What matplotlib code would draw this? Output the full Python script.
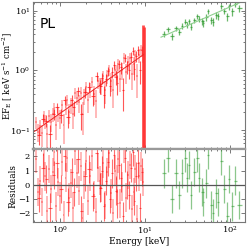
import numpy as np
import matplotlib
matplotlib.use('Agg')
import matplotlib.pyplot as plt

plt.rcParams['font.family'] = ['DejaVu Serif']
plt.rcParams['mathtext.fontset'] = 'dejavuserif'

# red (soft band) data, first group
red_E = [0.52, 0.55, 0.58, 0.61, 0.64, 0.67, 0.70, 0.74, 0.78, 0.82, 0.86, 0.90, 0.95, 1.0,
         1.05, 1.1, 1.16, 1.22, 1.28, 1.35, 1.42, 1.5, 1.58, 1.66, 1.75, 1.84, 1.94, 2.04,
         2.15, 2.26, 2.38, 2.5, 2.63, 2.77, 2.92, 3.07, 3.23, 3.4, 3.58, 3.77, 3.97, 4.18,
         4.4, 4.63, 4.87, 5.13, 5.4, 5.68, 5.98, 6.3, 6.63, 6.98, 7.35, 7.73, 8.14, 8.57,
         9.02, 9.5]
red_flux = [0.134, 0.094, 0.117, 0.088, 0.173, 0.142, 0.085, 0.172, 0.139, 0.184, 0.238,
            0.120, 0.188, 0.160, 0.264, 0.121, 0.242, 0.320, 0.199, 0.262, 0.184, 0.422,
            0.348, 0.290, 0.420, 0.189, 0.369, 0.520, 0.319, 0.480, 0.633, 0.409, 0.310,
            0.652, 0.588, 0.560, 0.798, 0.465, 0.802, 1.031, 0.664, 0.476, 1.003, 0.950,
            1.258, 0.722, 1.005, 1.619, 0.932, 1.365, 1.613, 0.875, 1.257, 1.792, 0.804,
            1.823, 2.160, 1.877]
red_err = [0.030, 0.032, 0.033, 0.035, 0.036, 0.038, 0.040, 0.042, 0.045, 0.047, 0.050,
           0.051, 0.054, 0.057, 0.060, 0.063, 0.066, 0.069, 0.074, 0.077, 0.081, 0.086,
           0.090, 0.095, 0.100, 0.105, 0.111, 0.117, 0.123, 0.129, 0.135, 0.143, 0.150,
           0.158, 0.167, 0.176, 0.185, 0.194, 0.204, 0.215, 0.227, 0.239, 0.251, 0.264,
           0.278, 0.293, 0.308, 0.324, 0.341, 0.359, 0.378, 0.398, 0.419, 0.441, 0.464,
           0.489, 0.515, 0.542]
red_res = [1.8, -0.5, 0.3, -1.2, 2.1, 0.6, -1.8, 1.1, -0.3, 0.9, 2.3, -1.5, 0.2, -0.8,
           1.6, -2.1, 0.5, 1.9, -0.9, 0.1, -1.6, 2.4, 0.8, -0.4, 1.3, -2.3, 0.0, 1.7,
           -1.1, 0.6, 2.0, -0.7, -1.9, 1.2, 0.3, -0.2, 1.5, -1.4, 0.9, 2.2, -0.6, -2.0,
           1.0, 0.4, 1.8, -1.3, -0.1, 2.5, -0.9, 0.7, 1.4, -1.7, -0.5, 1.1, -2.4, 0.6,
           1.3, 0.2]

# red data, second group (darker)
red2_E = [0.57, 0.63, 0.69, 0.76, 0.84, 0.92, 1.02, 1.13, 1.25, 1.38, 1.46, 1.62, 1.79,
          1.99, 2.2, 2.44, 2.7, 2.99, 3.15, 3.31, 3.49, 3.67, 3.87, 4.08, 4.29, 4.52, 4.75,
          5.0, 5.26, 5.54, 5.83, 6.14, 6.46, 6.8, 7.16, 7.54, 7.94, 8.35, 8.8, 9.26]
red2_flux = [0.084, 0.156, 0.144, 0.087, 0.188, 0.240, 0.179, 0.322, 0.166, 0.321, 0.243,
             0.446, 0.187, 0.435, 0.533, 0.371, 0.795, 0.540, 0.748, 0.393, 0.713, 0.976,
             0.551, 0.930, 1.243, 0.773, 0.609, 1.283, 1.124, 0.474, 1.634, 1.167, 1.013,
             1.680, 2.143, 1.039, 1.735, 2.181, 1.003, 2.155]
red2_err = [0.027, 0.030, 0.033, 0.036, 0.040, 0.044, 0.048, 0.054, 0.059, 0.066, 0.069,
            0.077, 0.085, 0.095, 0.105, 0.116, 0.128, 0.142, 0.150, 0.157, 0.166, 0.174,
            0.184, 0.194, 0.204, 0.215, 0.226, 0.238, 0.250, 0.263, 0.277, 0.292, 0.307,
            0.323, 0.340, 0.358, 0.377, 0.397, 0.418, 0.440]
red2_res = [-0.9, 1.2, 0.4, -1.6, 0.7, 1.5, -0.3, 2.0, -1.2, 0.9, -0.5, 1.8, -1.8, 0.6,
            1.1, -0.8, 2.2, -0.2, 1.0, -1.5, 0.3, 1.6, -1.0, 0.8, 2.1, -0.4, -1.3, 1.4,
            0.5, -2.2, 1.9, 0.0, -0.7, 1.2, 2.3, -1.1, 0.6, 1.5, -1.6, 0.9]

# the strong spike near 10 keV
spike_E = [9.62, 9.78]
spike_top = [5.7, 5.3]

# green (hard band) data
green_E = [16.8, 18.7, 20.9, 23.3, 25.3, 27.4, 29.8, 31.4, 33.2, 35.0, 38.1, 41.5, 43.6,
           47.3, 48.6, 52.8, 55.7, 60.5, 63.8, 69.2, 73.2, 79.4, 86.1, 93.3, 98.6, 106.9,
           115.9, 129.4]
green_flux = [4.12, 4.92, 3.78, 5.04, 4.43, 5.58, 6.58, 5.86, 6.69, 5.42, 6.91, 8.08, 7.19,
              6.70, 6.21, 7.73, 9.88, 6.91, 6.53, 8.38, 8.00, 11.85, 9.97, 8.00, 11.79,
              9.70, 12.89, 11.08]
green_err = [0.45, 0.48, 0.52, 0.55, 0.58, 0.61, 0.64, 0.66, 0.69, 0.71, 0.75, 0.79, 0.81,
             0.86, 0.87, 0.92, 0.95, 1.00, 1.03, 1.08, 1.12, 1.18, 1.24, 1.30, 1.35, 1.42,
             1.49, 1.60]
green_xerr = [0.8, 0.9, 1.0, 1.1, 1.0, 1.1, 1.2, 0.8, 0.9, 0.9, 1.5, 1.7, 1.0, 1.8, 0.7,
              2.0, 1.5, 2.4, 1.6, 2.7, 2.0, 3.1, 3.4, 3.6, 2.6, 4.2, 4.6, 9.0]
green_res = [0.8, 1.9, -1.0, 0.8, -0.7, 0.8, 1.9, 0.5, 1.4, -0.7, 0.9, 1.9, 0.5, -0.5,
             -1.2, 0.1, 2.1, -1.4, -2.0, -0.6, -1.2, 1.7, -0.3, -2.2, 0.4, -1.5, 0.3, -1.4]

# power-law model lines (straight in log-log)
red_model_E = [0.5, 9.6]
red_model_F = [0.095, 1.83]
green_model_E = [15.5, 140]
green_model_F = [3.6, 14.2]

red_xerr = np.gradient(np.array(red_E)) / 2
red2_xerr = np.gradient(np.array(red2_E)) / 2

fig = plt.figure(figsize=(2.49, 2.46), dpi=100)
ax = fig.add_axes([0.1325, 0.394, 0.852, 0.598])
axr = fig.add_axes([0.1325, 0.0976, 0.852, 0.2964], sharex=ax)

ax.errorbar(red_E, red_flux, yerr=red_err, xerr=red_xerr, fmt='none',
            ecolor='#ff2020', alpha=0.4, lw=1.1)
ax.errorbar(red2_E, red2_flux, yerr=red2_err, xerr=red2_xerr, fmt='none',
            ecolor='#ff1010', alpha=0.7, lw=0.8)
ax.vlines(spike_E, 0.001, spike_top, color='#ff3030', lw=2.0, alpha=0.85)
ax.plot(red_model_E, red_model_F, color='#ee2222', lw=0.7)
ax.errorbar(green_E, green_flux, yerr=green_err, xerr=green_xerr, fmt='none',
            ecolor='#2e9a2e', alpha=0.7, lw=0.9)
ax.plot(green_model_E, green_model_F, color='#8fd08f', lw=0.8)

ax.set_xscale('log')
ax.set_yscale('log')
ax.set_xlim(0.48, 152)
ax.set_ylim(0.048, 14)
ax.set_ylabel(r'EF$_{\rm E}$ [ keV s$^{-1}$ cm$^{-2}$]', fontsize=6.2)
ax.yaxis.set_label_coords(-0.09, 0.5)
ax.text(0.033, 0.85, 'PL', transform=ax.transAxes, fontsize=10,
        family='DejaVu Sans', va='center')
ax.tick_params(labelbottom=False)

axr.errorbar(red_E, red_res, yerr=1, xerr=red_xerr, fmt='none',
             ecolor='#ff2020', alpha=0.4, lw=1.1)
axr.errorbar(red2_E, red2_res, yerr=1, xerr=red2_xerr, fmt='none',
             ecolor='#ff1010', alpha=0.6, lw=0.8)
axr.errorbar(green_E, green_res, yerr=1, xerr=green_xerr, fmt='none',
             ecolor='#2e9a2e', alpha=0.55, lw=0.9)
axr.axhline(0, color='#555555', lw=0.9)
axr.set_ylim(-2.6, 2.5)
axr.set_yticks([-2, -1, 0, 1, 2])
axr.set_xlabel('Energy [keV]', fontsize=6.5, labelpad=1)
axr.set_ylabel('Residuals', fontsize=6.5)
axr.yaxis.set_label_coords(-0.075, 0.5)

for a in (ax, axr):
    a.tick_params(which='both', direction='in', top=True, right=True,
                  labelsize=6, pad=2, width=0.5, color='#444444')
    a.tick_params(which='major', length=3)
    a.tick_params(which='minor', length=1.5)
    for s in a.spines.values():
        s.set_color('#777777')
        s.set_linewidth(0.8)
ax.spines['bottom'].set_linewidth(1.6)
ax.spines['bottom'].set_color('#999999')
axr.spines['top'].set_linewidth(1.6)
axr.spines['top'].set_color('#999999')

fig.savefig('out.png', dpi=100)
